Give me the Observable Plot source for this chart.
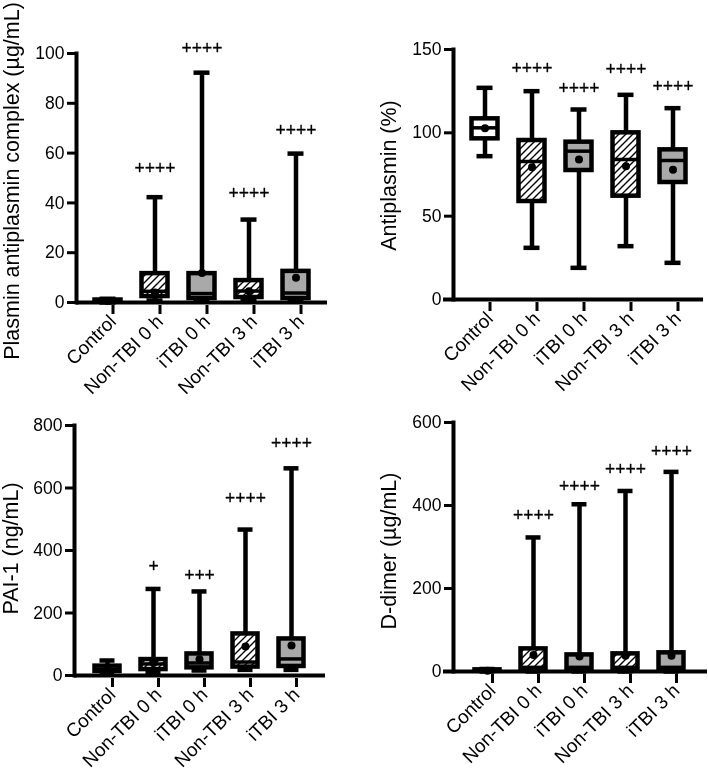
<!DOCTYPE html>
<html><head><meta charset="utf-8">
<script src="https://cdn.jsdelivr.net/npm/d3@7"></script>
<script src="https://cdn.jsdelivr.net/npm/@observablehq/plot@0.6"></script>
<style>
body{margin:0;background:#fff;}
#wrap{position:relative;width:708px;height:770px;}
#wrap svg{position:absolute;overflow:visible;will-change:transform;}
</style></head><body><div id="wrap"></div>
<script>
const groups = ["Control", "Non-TBI 0 h", "iTBI 0 h", "Non-TBI 3 h", "iTBI 3 h"];

// Plasmin antiplasmin complex (µg/mL)
const pacMin  = [0.0, 0.8, 0.5, 0.8, 0.8];
const pacQ1   = [0.1, 2.4, 1.6, 2.0, 1.6];
const pacMed  = [0.5, 4.5, 3.6, 4.6, 3.8];
const pacQ3   = [1.0, 11.6, 11.6, 8.8, 12.5];
const pacMax  = [1.5, 42.3, 92.3, 33.3, 59.8];
const pacMean = [0.6, 4.0, 11.8, 4.5, 9.9];
const pacSig  = ["", "++++", "++++", "++++", "++++"];
const pacSigY = [null, 54, 102, 44, 69];

// Antiplasmin (%)
const apMin  = [86, 31, 19, 32, 22];
const apQ1   = [96.4, 58.8, 77.4, 62, 70.2];
const apMed  = [103, 82.8, 89, 84, 83.4];
const apQ3   = [108.4, 95.4, 94.4, 100, 89.8];
const apMax  = [127, 125, 114, 122.8, 114.8];
const apMean = [102.8, 79.4, 84, 80, 77.8];
const apSig  = ["", "++++", "++++", "++++", "++++"];
const apSigY = [null, 138.8, 126.8, 137.8, 127.8];

// PAI-1 (ng/mL)
const paiMin  = [5, 11, 16, 18, 18];
const paiQ1   = [13, 19, 24.5, 27, 29];
const paiMed  = [20, 37, 40, 43, 53];
const paiQ3   = [30, 51, 69, 133, 117];
const paiMax  = [48, 277, 269, 467, 663];
const paiMean = [20, 40, 52, 93, 96];
const paiSig  = ["", "+", "+++", "++++", "++++"];
const paiSigY = [null, 349, 320, 567, 743];

// D-dimer (µg/mL)
const ddMin  = [0, 0, 0, 0, 0];
const ddQ1   = [0.5, 4, 5, 5, 5];
const ddMed  = [2, 10, 10, 10, 10];
const ddQ3   = [4, 54.5, 40, 42.5, 45];
const ddMax  = [6, 323, 403, 435, 481];
const ddMean = [2, 40, 36, 38, 38];
const ddSig  = ["", "++++", "++++", "++++", "++++"];
const ddSigY = [null, 375, 445, 488, 530];

const FONT = "'Liberation Sans', Arial, Helvetica, sans-serif";
const GRAY = "#a9a9a9";

function rowsOf(mn, q1, md, q3, mx, mean, sig, sigY) {
  return groups.map((g, i) => ({g, min: mn[i], q1: q1[i], med: md[i], q3: q3[i], max: mx[i], mean: mean[i], sig: sig[i], sigY: sigY[i]}));
}

function panel(cfg) {
  const data = rowsOf(...cfg.arrays);
  const pid = "hatch" + cfg.id;
  const kind = (g) => g.startsWith("Non-TBI") ? "hatch" : g.startsWith("iTBI") ? "gray" : "white";
  const boxInset = 10.5, capInset = 15.5;
  const svg = Plot.plot({
    width: 354, height: 385,
    marginLeft: cfg.ml, marginTop: cfg.mt, marginBottom: cfg.mb, marginRight: cfg.mr,
    style: {fontFamily: FONT, fontSize: "17.5px", background: "transparent", overflow: "visible", color: "black"},
    x: {type: "band", domain: groups, range: cfg.xRange, padding: 0},
    y: {domain: cfg.yDomain},
    marks: [
      Plot.ruleX(data, {x: "g", y1: "min", y2: "max", strokeWidth: 4.5, stroke: "black"}),
      Plot.tickY(data, {x: "g", y: "max", strokeWidth: 4.5, insetLeft: capInset, insetRight: capInset}),
      Plot.tickY(data, {x: "g", y: "min", strokeWidth: 4.5, insetLeft: capInset, insetRight: capInset}),
      Plot.barY(data.filter(d => kind(d.g) === "white"), {x: "g", y1: "q1", y2: "q3", fill: "white", stroke: "black", strokeWidth: 4.5, insetLeft: boxInset, insetRight: boxInset}),
      Plot.barY(data.filter(d => kind(d.g) === "hatch"), {x: "g", y1: "q1", y2: "q3", fill: `url(#${pid})`, stroke: "black", strokeWidth: 4.5, insetLeft: boxInset, insetRight: boxInset}),
      Plot.barY(data.filter(d => kind(d.g) === "gray"), {x: "g", y1: "q1", y2: "q3", fill: GRAY, stroke: "black", strokeWidth: 4.5, insetLeft: boxInset, insetRight: boxInset}),
      Plot.tickY(data, {x: "g", y: "med", strokeWidth: 3.5, insetLeft: boxInset, insetRight: boxInset}),
      Plot.dot(data, {x: "g", y: "mean", r: 4, fill: "black", stroke: "none"}),
      Plot.ruleY([0], {strokeWidth: 4, insetLeft: cfg.ruleInset}),
      Plot.text(data.filter(d => d.sig), {x: "g", y: "sigY", text: "sig", fontSize: 17.5, fill: "black", stroke: "black", strokeWidth: 0.3}),
      Plot.axisY({ticks: cfg.yTicks, tickSize: 9, tickPadding: 3, strokeWidth: 3, fontSize: 17.5, label: null}),
      Plot.axisX({tickSize: 9, tickPadding: 4, tickRotate: -45, strokeWidth: 3, fontSize: 19, label: null, dx: 5, dy: 3}),
      Plot.frame({anchor: "left", strokeWidth: 4}),
      Plot.text([cfg.title], {frameAnchor: "left", textAnchor: "middle", text: d => d, rotate: -90, dx: cfg.tdx, dy: cfg.tdy, fontSize: 21.5, fill: "black"})
    ]
  });
  const defs = d3.select(svg).insert("defs", ":first-child");
  const pat = defs.append("pattern").attr("id", pid).attr("patternUnits", "userSpaceOnUse").attr("width", 7).attr("height", 7);
  pat.append("rect").attr("width", 7).attr("height", 7).attr("fill", "white");
  pat.append("path").attr("d", "M-1,1L1,-1M0,7L7,0M6,8L8,6").attr("stroke", "black").attr("stroke-width", 1.4);
  svg.style.left = cfg.left + "px";
  svg.style.top = cfg.top + "px";
  document.getElementById("wrap").appendChild(svg);
}

panel({id: 1, title: "Plasmin antiplasmin complex (µg/mL)",
  arrays: [pacMin, pacQ1, pacMed, pacQ3, pacMax, pacMean, pacSig, pacSigY],
  yDomain: [0, 100], yTicks: [0, 20, 40, 60, 80, 100],
  ml: 76, mt: 53, mb: 83, mr: 27, xRange: [83.5, 318.5], ruleInset: 0,
  tdx: -64, tdy: 3, left: 0, top: 0});
panel({id: 2, title: "Antiplasmin (%)",
  arrays: [apMin, apQ1, apMed, apQ3, apMax, apMean, apSig, apSigY],
  yDomain: [0, 150], yTicks: [0, 50, 100, 150],
  ml: 99, mt: 49, mb: 86, mr: 5, xRange: [106.5, 341.5], ruleInset: -10,
  tdx: -64, tdy: 1, left: 354, top: 0});
panel({id: 3, title: "PAI-1 (ng/mL)",
  arrays: [paiMin, paiQ1, paiMed, paiQ3, paiMax, paiMean, paiSig, paiSigY],
  yDomain: [0, 800], yTicks: [0, 200, 400, 600, 800],
  ml: 74, mt: 40, mb: 95, mr: 29, xRange: [82.6, 316.4], ruleInset: 0,
  tdx: -63, tdy: -2, left: 0, top: 385});
panel({id: 4, title: "D-dimer (µg/mL)",
  arrays: [ddMin, ddQ1, ddMed, ddQ3, ddMax, ddMean, ddSig, ddSigY],
  yDomain: [0, 600], yTicks: [0, 200, 400, 600],
  ml: 99, mt: 37, mb: 99, mr: 1, xRange: [108.2, 341.5], ruleInset: -10,
  tdx: -64, tdy: 4, left: 354, top: 385});
</script></body></html>
